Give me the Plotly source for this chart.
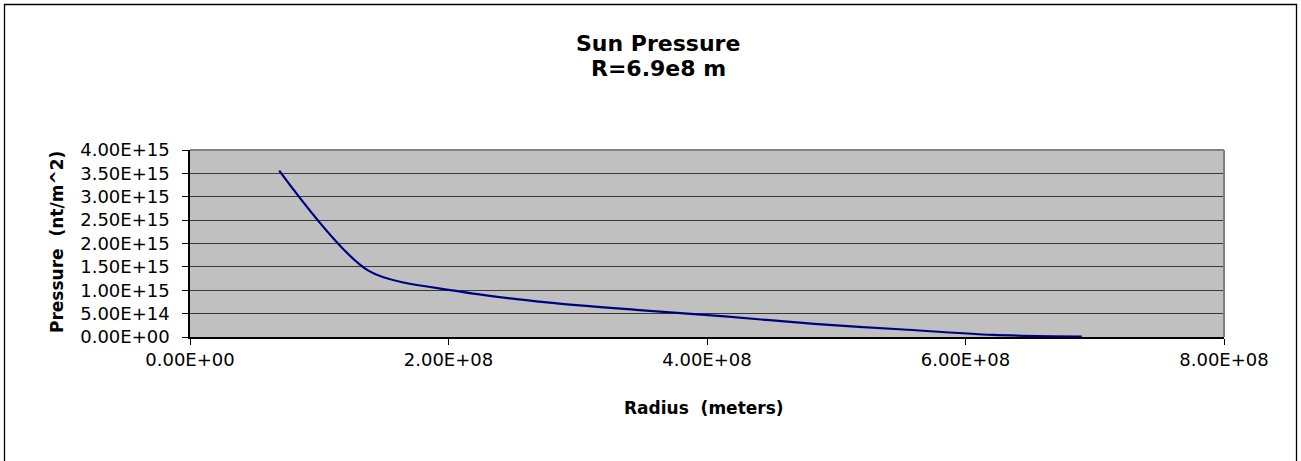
import plotly.graph_objects as go

# Data
radius = [6.9e7, 1.38e8, 2.07e8, 2.76e8, 3.45e8, 4.14e8, 4.83e8, 5.52e8, 6.21e8, 6.9e8]
pressure = [3.56e15, 1.42e15, 0.98e15, 0.74e15, 0.58e15, 0.44e15, 0.28e15, 0.16e15, 0.045e15, 0.01e15]

x_ticks = [0, 2e8, 4e8, 6e8, 8e8]
x_ticktext = ["0.00E+00", "2.00E+08", "4.00E+08", "6.00E+08", "8.00E+08"]
y_ticks = [0, 0.5e15, 1.0e15, 1.5e15, 2.0e15, 2.5e15, 3.0e15, 3.5e15, 4.0e15]
y_ticktext = ["0.00E+00", "5.00E+14", "1.00E+15", "1.50E+15", "2.00E+15",
              "2.50E+15", "3.00E+15", "3.50E+15", "4.00E+15"]

W, H = 1301, 461
L, R, T, B = 190, 77, 150, 124
PW, PH = W - L - R, H - T - B

def px(x):
    return (x - L) / PW

def py(y):
    return (H - B - y) / PH

FONT = "DejaVu Sans, Liberation Sans, Arial, sans-serif"

fig = go.Figure()
fig.add_trace(go.Scatter(
    x=radius, y=pressure, mode="lines",
    line=dict(color="#000080", width=2.2, shape="spline", smoothing=0.8),
    showlegend=False, hoverinfo="skip"))

fig.update_layout(
    width=W, height=H,
    margin=dict(l=L, r=R, t=T, b=B, autoexpand=False),
    paper_bgcolor="white", plot_bgcolor="#c0c0c0",
    font=dict(family=FONT, color="black", size=18),
    xaxis=dict(range=[0, 8e8], tickvals=x_ticks, ticktext=x_ticktext,
               showgrid=False, zeroline=False, showline=True, linecolor="black",
               linewidth=1.5, ticks="outside", ticklen=6, tickcolor="black",
               ticklabelstandoff=0,
               tickfont=dict(size=18, family=FONT), fixedrange=True),
    yaxis=dict(range=[0, 4e15], tickvals=y_ticks, ticktext=y_ticktext,
               showgrid=True, gridcolor="#383838", gridwidth=1.3, zeroline=False,
               showline=True, linecolor="black", linewidth=1.5, ticks="outside",
               ticklen=6, tickcolor="black", ticklabelstandoff=9,
               tickfont=dict(size=18, family=FONT), fixedrange=True),
    shapes=[
        dict(type="line", xref="paper", yref="paper", x0=0, x1=1, y0=1, y1=1,
             line=dict(color="#808080", width=2)),
        dict(type="line", xref="paper", yref="paper", x0=1, x1=1, y0=0, y1=1,
             line=dict(color="#808080", width=2)),
        dict(type="rect", xref="paper", yref="paper",
             x0=px(4.5), x1=px(1296.5), y0=py(4.5), y1=py(480),
             line=dict(color="black", width=1.3)),
    ],
    annotations=[
        dict(text="<b>Sun Pressure</b>", xref="paper", yref="paper", x=px(658), y=py(44),
             showarrow=False, font=dict(size=22, family=FONT), xanchor="center", yanchor="middle"),
        dict(text="<b>R=6.9e8 m</b>", xref="paper", yref="paper", x=px(658), y=py(68),
             showarrow=False, font=dict(size=22, family=FONT), xanchor="center", yanchor="middle"),
        dict(text="<b>Radius  (meters)</b>", xref="paper", yref="paper", x=px(704), y=py(408),
             showarrow=False, font=dict(size=17, family=FONT), xanchor="center", yanchor="middle"),
        dict(text="<b>Pressure  (nt/m^2)</b>", xref="paper", yref="paper", x=px(57), y=py(242),
             showarrow=False, textangle=-90, font=dict(size=17, family=FONT),
             xanchor="center", yanchor="middle"),
    ],
)

fig.write_html("out.html", config={"displayModeBar": False},
               post_script="document.body.style.margin='0';document.body.style.padding='0';")
